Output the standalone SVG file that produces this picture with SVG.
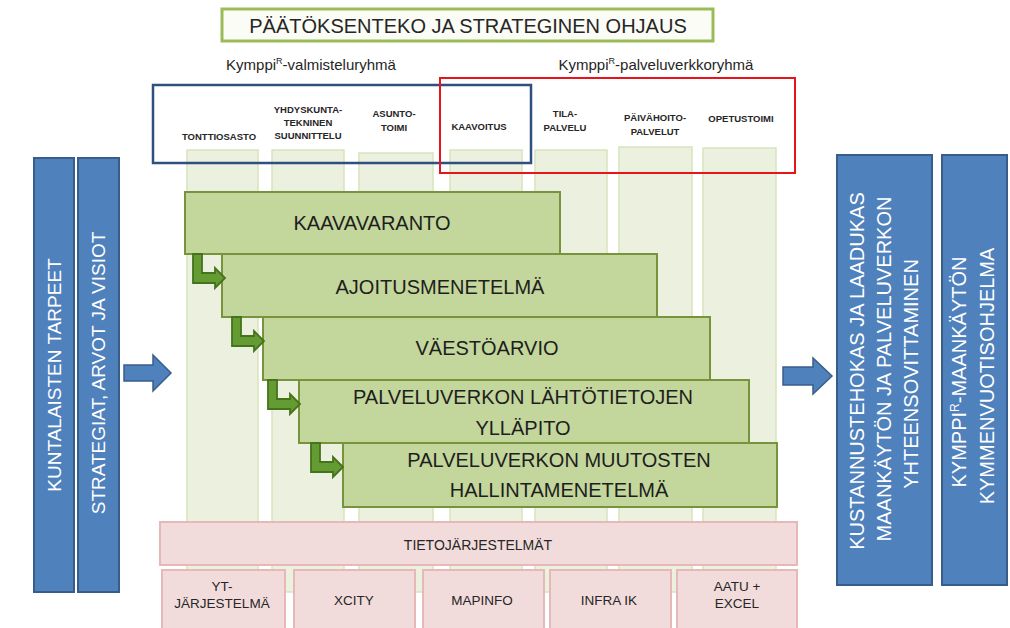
<svg xmlns="http://www.w3.org/2000/svg" width="1010" height="628" viewBox="0 0 1010 628">
<defs>
<style>
.t{font-family:"Liberation Sans",Arial,sans-serif;fill:#262626}
.col{fill:#ebf1de;stroke:#d7e4bd;stroke-width:1.5}
.lbl{font-family:"Liberation Sans",Arial,sans-serif;font-weight:bold;font-size:9.5px;fill:#262626;text-anchor:middle}
.bar{fill:#4f81bd;stroke:#385d8a;stroke-width:2}
.wt{font-family:"Liberation Sans",Arial,sans-serif;fill:#ffffff;text-anchor:middle}
.gb{fill:#c3d69b;stroke:#77933c;stroke-width:2}
.gt{font-family:"Liberation Sans",Arial,sans-serif;font-size:20px;fill:#1e1e1e;text-anchor:middle}
.pk{fill:#f2dcdb;stroke:#e6b9b8;stroke-width:2}
.pt{font-family:"Liberation Sans",Arial,sans-serif;font-size:13.5px;fill:#262626;text-anchor:middle}
.el{fill:#649b32;stroke:#44731b;stroke-width:1.8;stroke-linejoin:miter}
.ba{fill:#4f81bd;stroke:#385d8a;stroke-width:1.5}
</style>
<path id="elbow" d="M0,0 H9 V19 H22 V14 L32,24 L22,34 V29 H0 Z"/>
</defs>
<rect width="1010" height="628" fill="#ffffff"/>

<g id="title">
<rect x="222" y="9" width="491" height="32" fill="#fafcf5" stroke="#9bbb59" stroke-width="3"/>
<text class="t" x="468" y="33" font-size="20" text-anchor="middle" fill="#333">PÄÄTÖKSENTEKO JA STRATEGINEN OHJAUS</text>
</g>

<g id="group-labels">
<text class="t" x="311" y="70" font-size="15" text-anchor="middle">Kymppi<tspan font-size="9" dy="-6">R</tspan><tspan dy="6">-valmisteluryhmä</tspan></text>
<text class="t" x="656" y="70" font-size="15" text-anchor="middle">Kymppi<tspan font-size="9" dy="-6">R</tspan><tspan dy="6">-palveluverkkoryhmä</tspan></text>
</g>

<g id="columns">
<rect class="col" x="187" y="150" width="71" height="442"/>
<rect class="col" x="272" y="150" width="72" height="442"/>
<rect class="col" x="359" y="153" width="74" height="439"/>
<rect class="col" x="450" y="150" width="72" height="442"/>
<rect class="col" x="535" y="150" width="72" height="442"/>
<rect class="col" x="619" y="147" width="73" height="445"/>
<rect class="col" x="703" y="148" width="73" height="444"/>
</g>

<g id="column-labels">
<text class="lbl" x="219" y="140">TONTTIOSASTO</text>
<text class="lbl" x="308" y="113">YHDYSKUNTA-</text>
<text class="lbl" x="308" y="126">TEKNINEN</text>
<text class="lbl" x="308" y="139">SUUNNITTELU</text>
<text class="lbl" x="394" y="117">ASUNTO-</text>
<text class="lbl" x="394" y="131">TOIMI</text>
<text class="lbl" x="479" y="130">KAAVOITUS</text>
<text class="lbl" x="565" y="117">TILA-</text>
<text class="lbl" x="565" y="131">PALVELU</text>
<text class="lbl" x="655" y="121">PÄIVÄHOITO-</text>
<text class="lbl" x="655" y="135">PALVELUT</text>
<text class="lbl" x="741" y="122">OPETUSTOIMI</text>
</g>

<g id="group-frames" fill="none">
<rect x="153" y="85" width="378" height="78" stroke="#2f4f7f" stroke-width="2.5"/>
<rect x="440" y="78" width="355" height="95" stroke="#e8141b" stroke-width="2"/>
</g>

<g id="left-bars">
<rect class="bar" x="34" y="158" width="40" height="434"/>
<text class="wt" font-size="19" transform="translate(61,375) rotate(-90)">KUNTALAISTEN TARPEET</text>
<rect class="bar" x="78" y="158" width="41" height="434"/>
<text class="wt" font-size="19" transform="translate(105,373) rotate(-90)">STRATEGIAT, ARVOT JA VISIOT</text>
</g>

<g id="right-bars">
<rect class="bar" x="837" y="155" width="95" height="430"/>
<text class="wt" font-size="20" transform="translate(864,371) rotate(-90)">KUSTANNUSTEHOKAS JA LAADUKAS</text>
<text class="wt" font-size="20" transform="translate(891,369) rotate(-90)">MAANKÄYTÖN JA PALVELUVERKON</text>
<text class="wt" font-size="20" transform="translate(918,374) rotate(-90)">YHTEENSOVITTAMINEN</text>
<rect class="bar" x="942" y="155" width="65" height="430"/>
<text class="wt" font-size="20" transform="translate(966,372) rotate(-90)">KYMPPI<tspan font-size="12" dy="-7">R</tspan><tspan dy="7">-MAANKÄYTÖN</tspan></text>
<text class="wt" font-size="20" transform="translate(994,376) rotate(-90)">KYMMENVUOTISOHJELMA</text>
</g>

<g id="box-kaavavaranto">
<rect class="gb" x="185" y="192" width="375" height="62"/>
<text class="gt" x="372" y="230">KAAVAVARANTO</text>
</g>
<g id="box-ajoitus">
<rect class="gb" x="222" y="254" width="435" height="63"/>
<text class="gt" x="440" y="294">AJOITUSMENETELMÄ</text>
</g>
<g id="box-vaestoarvio">
<rect class="gb" x="263" y="317" width="447" height="63"/>
<text class="gt" x="487" y="355">VÄESTÖARVIO</text>
</g>
<g id="box-lahtotiedot">
<rect class="gb" x="299" y="380" width="450" height="63"/>
<text class="gt" x="523" y="404">PALVELUVERKON LÄHTÖTIETOJEN</text>
<text class="gt" x="523" y="435">YLLÄPITO</text>
</g>
<g id="box-muutokset">
<rect class="gb" x="343" y="443" width="434" height="64"/>
<text class="gt" x="559" y="467">PALVELUVERKON MUUTOSTEN</text>
<text class="gt" x="559" y="497">HALLINTAMENETELMÄ</text>
</g>

<g id="tietojarjestelmat">
<rect class="pk" x="160" y="522" width="637" height="43"/>
<text class="t" x="478" y="550" font-size="14" text-anchor="middle">TIETOJÄRJESTELMÄT</text>
</g>
<g id="sys-yt">
<rect class="pk" x="162" y="570" width="123" height="70"/>
<text class="pt" x="222" y="591">YT-</text>
<text class="pt" x="222" y="608">JÄRJESTELMÄ</text>
</g>
<g id="sys-xcity">
<rect class="pk" x="294" y="570" width="121" height="70"/>
<text class="pt" x="354" y="605">XCITY</text>
</g>
<g id="sys-mapinfo">
<rect class="pk" x="423" y="570" width="121" height="70"/>
<text class="pt" x="482" y="605">MAPINFO</text>
</g>
<g id="sys-infra">
<rect class="pk" x="550" y="570" width="121" height="70"/>
<text class="pt" x="609" y="605">INFRA IK</text>
</g>
<g id="sys-aatu">
<rect class="pk" x="677" y="570" width="120" height="70"/>
<text class="pt" x="737" y="591">AATU +</text>
<text class="pt" x="737" y="608">EXCEL</text>
</g>

<g id="connectors">
<use href="#elbow" class="el" x="193" y="254"/>
<use href="#elbow" class="el" x="232" y="317"/>
<use href="#elbow" class="el" x="268" y="380"/>
<use href="#elbow" class="el" x="311" y="443"/>
<path class="ba" d="M124,365 H153 V355 L171,373 L153,391 V381 H124 Z"/>
<path class="ba" d="M783,367 H813 V358 L832,376 L813,394 V385 H783 Z"/>
</g>
</svg>
